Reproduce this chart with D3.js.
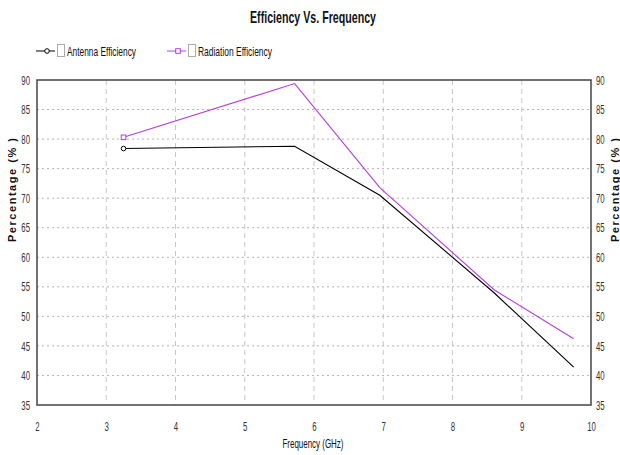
<!DOCTYPE html>
<html>
<head>
<meta charset="utf-8">
<script src="https://cdn.jsdelivr.net/npm/d3@7/dist/d3.min.js"></script>
<style>
  body { margin: 0; background: #fff; }
  svg { display: block; font-family: 'Liberation Sans', Arial, sans-serif; }
</style>
</head>
<body>
<svg width="620" height="455"></svg>
<script>
// data
const frequency = [3.25, 5.72, 6.95, 8.6, 9.75]
const antennaEfficiency = [78.4, 78.8, 70.5, 54.0, 41.4]
const radiationEfficiency = [80.3, 89.4, 71.8, 54.5, 46.2]
const xTicks = [2, 3, 4, 5, 6, 7, 8, 9, 10]
const yTicks = [35, 40, 45, 50, 55, 60, 65, 70, 75, 80, 85, 90]

const series = [
  { name: 'Antenna Efficiency', values: antennaEfficiency, color: '#000000', marker: 'circle' },
  { name: 'Radiation Efficiency', values: radiationEfficiency, color: '#b23ee0', marker: 'square' },
]

const svg = d3.select('svg')
const plotLeft = 37, plotRight = 591, plotTop = 80, plotBottom = 405

const x = d3.scaleLinear().domain([2, 10]).range([plotLeft, plotRight])
const y = d3.scaleLinear().domain([35, 90]).range([plotBottom, plotTop])

// squeeze text to look like a narrow font (no Arial Narrow here)
function narrow(sel, factor) {
  sel.each(function () {
    const w = this.getComputedTextLength()
    d3.select(this).attr('textLength', w * factor).attr('lengthAdjust', 'spacingAndGlyphs')
  })
}

// grid
const grid = svg.append('g')
grid.selectAll('line.v')
  .data(xTicks.slice(1, -1))
  .join('line')
  .attr('class', 'v')
  .attr('x1', d => x(d)).attr('x2', d => x(d))
  .attr('y1', plotTop).attr('y2', plotBottom)
  .attr('stroke', '#c8c8c8')
  .attr('stroke-dasharray', '5,4')
grid.selectAll('line.h')
  .data(yTicks.slice(1, -1))
  .join('line')
  .attr('class', 'h')
  .attr('x1', plotLeft).attr('x2', plotRight)
  .attr('y1', d => y(d)).attr('y2', d => y(d))
  .attr('stroke', '#b4b4b4')
  .attr('stroke-dasharray', '2,3')

// axes (labels only, frame drawn below)
const xAxis = svg.append('g')
  .attr('transform', `translate(0, ${plotBottom})`)
  .call(d3.axisBottom(x).tickValues(xTicks).tickSize(0).tickPadding(17).tickFormat(d3.format('d')))
const yLeft = svg.append('g')
  .attr('transform', `translate(${plotLeft}, 0)`)
  .call(d3.axisLeft(y).tickValues(yTicks).tickSize(0).tickPadding(7))
const yRight = svg.append('g')
  .attr('transform', `translate(${plotRight}, 0)`)
  .call(d3.axisRight(y).tickValues(yTicks).tickSize(0).tickPadding(5))

;[xAxis, yLeft, yRight].forEach(a => {
  a.select('.domain').remove()
  a.selectAll('text').attr('font-size', 13).attr('fill', '#333')
    .attr('font-family', "'Liberation Sans', Arial, sans-serif")
    .call(narrow, 0.6)
})

svg.append('rect')
  .attr('x', plotLeft).attr('y', plotTop)
  .attr('width', plotRight - plotLeft).attr('height', plotBottom - plotTop)
  .attr('fill', 'none')
  .attr('stroke', '#444')
  .attr('stroke-width', 1.5)

// lines
const line = d3.line()
  .x((d, i) => x(frequency[i]))
  .y(d => y(d))

const plot = svg.append('g')
plot.selectAll('path.data')
  .data(series)
  .join('path')
  .attr('class', 'data')
  .attr('d', d => line(d.values))
  .attr('fill', 'none')
  .attr('stroke', d => d.color)
  .attr('stroke-width', 1.1)

function drawMarker(g, type, color, cx, cy) {
  if (type === 'circle') {
    g.append('circle').attr('cx', cx).attr('cy', cy).attr('r', 2.3)
      .attr('fill', '#fff').attr('stroke', color)
  } else {
    g.append('rect').attr('x', cx - 2.3).attr('y', cy - 2.3).attr('width', 4.6).attr('height', 4.6)
      .attr('fill', '#fff').attr('stroke', color)
  }
}

series.forEach(s => drawMarker(plot, s.marker, s.color, x(frequency[0]), y(s.values[0])))

// legend
const legendX = [36, 167]
const legendWidth = [69, 74]
series.forEach((s, i) => {
  const g = svg.append('g').attr('transform', `translate(${legendX[i]}, 51)`)
  g.append('line').attr('x1', 0).attr('x2', 19).attr('y1', 0).attr('y2', 0)
    .attr('stroke', s.color).attr('stroke-width', 1)
  drawMarker(g, s.marker, s.color, 11, 0)
  g.append('rect').attr('x', 21.5).attr('y', -6.5).attr('width', 7).attr('height', 12)
    .attr('fill', '#fff').attr('stroke', '#aaa')
  g.append('text').attr('x', 31).attr('y', 5)
    .attr('font-size', 13).attr('fill', '#111')
    .attr('textLength', legendWidth[i]).attr('lengthAdjust', 'spacingAndGlyphs')
    .text(s.name)
})

// title and axis labels
svg.append('text')
  .attr('x', 313).attr('y', 23)
  .attr('text-anchor', 'middle')
  .attr('font-size', 17).attr('font-weight', 'bold')
  .attr('fill', '#111')
  .attr('textLength', 126).attr('lengthAdjust', 'spacingAndGlyphs')
  .text('Efficiency Vs. Frequency')

svg.append('text')
  .attr('x', 313).attr('y', 448)
  .attr('text-anchor', 'middle')
  .attr('font-size', 12).attr('fill', '#111')
  .attr('textLength', 61).attr('lengthAdjust', 'spacingAndGlyphs')
  .text('Frequency (GHz)')

;[16, 619].forEach(px => {
  svg.append('text')
    .attr('transform', `translate(${px}, 190) rotate(-90)`)
    .attr('text-anchor', 'middle')
    .attr('font-size', 11).attr('font-weight', 'bold')
    .attr('fill', '#111')
    .attr('textLength', 104).attr('lengthAdjust', 'spacing')
    .text('Percentage (% )')
})
</script>
</body>
</html>
